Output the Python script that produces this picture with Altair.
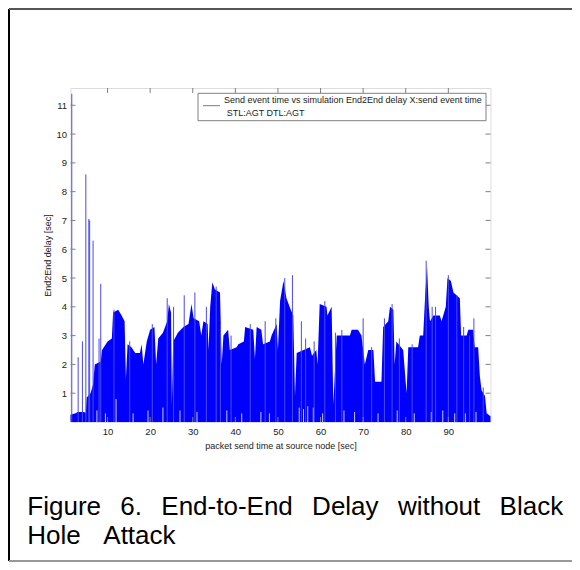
import altair as alt
import pandas as pd

# upper envelope of the dense delay trace (send time [s], delay [s])
env_t = [1.3, 2.5, 3.0, 4.5, 4.9, 5.1, 6.0, 6.6, 7.0, 8.4, 8.7, 10.0, 11.0, 11.3, 12.5, 13.3,
         14.0, 14.3, 14.7, 15.6, 16.5, 17.6, 18.0, 18.4, 19.2, 20.0, 21.0, 21.4, 21.9, 23.0,
         24.0, 24.4, 24.9, 25.1, 25.4, 26.5, 27.8, 29.0, 29.7, 30.2, 31.5, 32.0, 32.5, 33.5,
         33.7, 34.1, 34.6, 35.2, 36.4, 36.8, 37.2, 38.3, 38.7, 40.3, 40.7, 42.0, 42.3, 44.2,
         44.6, 45.0, 46.1, 46.5, 48.1, 48.5, 49.7, 50.0, 50.5, 51.3, 52.0, 53.0, 53.6, 54.0,
         54.4, 57.5, 58.0, 59.0, 59.3, 59.8, 61.4, 61.6, 62.6, 63.0, 63.8, 66.9, 67.3, 68.8,
         69.6, 70.4, 71.2, 72.4, 72.8, 74.3, 74.7, 75.9, 76.3, 77.1, 77.4, 77.8, 79.4, 80.2,
         80.6, 82.9, 83.3, 84.1, 84.6, 85.0, 85.4, 85.7, 86.5, 88.0, 88.4, 89.4, 89.8, 90.6,
         91.2, 92.7, 93.0, 94.3, 94.7, 95.8, 96.2, 97.0, 97.4, 97.8, 98.6, 99.0, 99.9]
env_high = [0.25, 0.3, 0.35, 0.35, 0.3, 0.85, 1.0, 1.3, 2.0, 2.1, 2.5, 2.8, 2.9, 3.8, 3.9, 3.7,
            3.5, 1.5, 2.7, 2.6, 2.4, 2.4, 2.7, 2.0, 2.8, 3.2, 3.3, 2.0, 2.9, 3.1,
            3.5, 4.1, 3.8, 0.6, 2.8, 3.1, 3.3, 3.4, 4.1, 3.6, 3.5, 3.0, 3.5, 3.4,
            2.5, 4.0, 4.85, 4.6, 4.5, 2.0, 3.0, 3.2, 2.5, 2.6, 2.7, 2.8, 3.3, 3.2,
            2.2, 3.3, 3.2, 2.7, 2.8, 3.0, 3.4, 2.5, 4.2, 4.9, 4.3, 3.9, 3.7, 0.9,
            2.4, 2.6, 2.3, 2.5, 2.0, 4.1, 4.0, 3.7, 4.0, 0.6, 3.0, 3.0, 3.2, 3.2,
            3.0, 2.0, 2.5, 2.5, 1.4, 1.4, 3.3, 3.5, 4.0, 3.9, 2.0, 2.8, 2.5, 1.0,
            2.6, 2.6, 3.0, 3.0, 4.5, 5.4, 4.0, 3.5, 3.7, 3.7, 3.5, 4.0, 5.0, 4.9,
            4.5, 4.3, 3.0, 3.0, 3.2, 3.2, 2.6, 2.6, 1.6, 1.1, 0.9, 0.3, 0.2]

# isolated spikes above the envelope
spike_t = [1.6, 3.1, 4.1, 4.9, 5.6, 5.8, 6.6, 8.4, 8.0, 11.5, 15.2, 20.5, 24.0, 25.5, 28.0,
           30.5, 33.2, 35.5, 36.5, 39.0, 43.5, 47.0, 49.5, 51.6, 53.4, 55.5, 56.5, 58.5, 61.0,
           63.5, 65.0, 70.0, 72.0, 75.0, 76.8, 78.5, 81.5, 84.8, 86.2, 87.0, 90.0, 92.0,
           93.6, 95.0, 96.0, 98.2]
spike_h = [11.4, 2.25, 2.8, 8.6, 7.05, 7.0, 6.3, 4.8, 2.9, 3.9, 2.8, 3.4, 4.3, 4.0, 4.4,
           4.5, 4.0, 4.7, 3.4, 3.0, 3.4, 3.5, 3.6, 5.0, 5.1, 3.5, 2.9, 2.8, 4.2,
           3.1, 3.2, 3.6, 2.6, 3.6, 4.1, 2.9, 2.7, 5.6, 4.0, 4.0, 5.1, 4.4,
           3.3, 3.0, 3.6, 1.2]

# light gaps near the bottom of the trace
gap_t = [7.5, 9.5, 12.0, 16.0, 19.5, 23.0, 27.0, 31.0, 38.0, 41.5, 46.0, 48.0, 55.0, 56.0,
         57.0, 58.3, 60.5, 65.5, 68.0, 73.5, 78.0, 82.0, 86.0, 88.7, 91.5, 94.0, 96.5]
gap_h = [0.4, 0.3, 0.8, 0.3, 0.4, 0.5, 0.4, 0.35, 0.4, 0.3, 0.35, 0.3, 0.5, 0.45,
         0.55, 0.5, 0.3, 0.4, 0.35, 0.3, 0.4, 0.3, 0.35, 0.4, 0.3, 0.3, 0.35]

x_ticks = [10, 20, 30, 40, 50, 60, 70, 80, 90]
y_ticks = [1, 2, 3, 4, 5, 6, 7, 8, 9, 10, 11]

legend_line1 = "Send event time vs simulation End2End delay X:send event time"
legend_line2 = "STL:AGT DTL:AGT"
caption_words = ["Figure", "6.", "End-to-End", "Delay", "without", "Black", "Hole", "Attack"]
caption_x = [27.3, 120.3, 161.3, 312.1, 397.9, 499.6, 27.3, 103.3]
caption_y = [515, 515, 515, 515, 515, 515, 544, 544]

W, H = 420, 334
OX, OY = 70.5, 88  # page position of the plot area
FONT = "Liberation Sans"
GRAY = "#808080"

xs = alt.Scale(domain=[1.3, 99.9], nice=False, zero=False)
ys = alt.Scale(domain=[0, 11.6], nice=False)

xaxis = alt.Axis(values=x_ticks, tickSize=0, domain=False, grid=False, labelFontSize=9.5,
                 labelColor="#222222", labelPadding=4, labelFont=FONT,
                 title="packet send time at source node [sec]", titleFont=FONT,
                 titleFontSize=9, titleFontWeight="normal", titleColor="#222222",
                 titleY=23, titleBaseline="middle")
yaxis = alt.Axis(values=y_ticks, tickSize=0, domain=False, grid=False, labelFontSize=9.5,
                 labelColor="#222222", labelPadding=4, labelFont=FONT,
                 title="End2End delay [sec]", titleFont=FONT, titleFontSize=9,
                 titleFontWeight="normal", titleColor="#222222", titleX=-23, titleY=H / 2,
                 titleBaseline="middle", titleAlign="center", titleAngle=-90)


def X(field):
    return alt.X(field, scale=xs, axis=xaxis)


def Y(field):
    return alt.Y(field, scale=ys, axis=yaxis)


env = pd.DataFrame({"t": env_t, "high": env_high})
area = alt.Chart(env).mark_area(color="#0000ff", interpolate="linear").encode(
    x=X("t:Q"), y=Y("high:Q"))

spikes = alt.Chart(pd.DataFrame({"t": spike_t, "high": spike_h})).mark_rule(
    color="#4a4ae8", strokeWidth=1).encode(x=X("t:Q"), y=Y("high:Q"), y2=alt.datum(0))

gaps = alt.Chart(pd.DataFrame({"t": gap_t, "high": gap_h})).mark_rule(
    color="#c8c8f4", strokeWidth=1).encode(x=X("t:Q"), y=Y("high:Q"), y2=alt.datum(0))

xt = pd.DataFrame({"t": x_ticks})
yt = pd.DataFrame({"high": y_ticks})
tick_layers = [
    alt.Chart(xt).mark_rule(color=GRAY).encode(x=X("t:Q"), y=alt.value(H), y2=alt.value(H - 5)),
    alt.Chart(xt).mark_rule(color=GRAY).encode(x=X("t:Q"), y=alt.value(0), y2=alt.value(5)),
    alt.Chart(yt).mark_rule(color=GRAY).encode(y=Y("high:Q"), x=alt.value(0), x2=alt.value(5)),
    alt.Chart(yt).mark_rule(color=GRAY).encode(y=Y("high:Q"), x=alt.value(W - 5), x2=alt.value(W)),
]

one = pd.DataFrame({"a": [0]})
legend_layers = [
    alt.Chart(one).mark_rect(fill="white", stroke=GRAY, strokeWidth=1).encode(
        x=alt.value(198 - OX), x2=alt.value(486 - OX),
        y=alt.value(93.3 - OY), y2=alt.value(120.7 - OY)),
    alt.Chart(one).mark_rule(color="#7070cc", strokeWidth=1).encode(
        x=alt.value(203 - OX), x2=alt.value(220 - OX), y=alt.value(105.7 - OY)),
    alt.Chart(one).mark_text(align="left", baseline="middle", font=FONT, fontSize=9,
                             color="#222222").encode(
        x=alt.value(224 - OX), y=alt.value(100 - OY), text=alt.value(legend_line1)),
    alt.Chart(one).mark_text(align="left", baseline="middle", font=FONT, fontSize=9,
                             color="#222222").encode(
        x=alt.value(226.7 - OX), y=alt.value(112.7 - OY), text=alt.value(legend_line2)),
]

caption_layers = [
    alt.Chart(one).mark_text(align="left", baseline="alphabetic", font=FONT, fontSize=26,
                             color="black").encode(
        x=alt.value(cx - OX), y=alt.value(cy - OY), text=alt.value(w))
    for w, cx, cy in zip(caption_words, caption_x, caption_y)
]

# outer figure box (svg spans page 8..572 x 8..562)
box_layers = [
    alt.Chart(one).mark_rule(color="black", strokeWidth=2).encode(
        x=alt.value(9 - OX), y=alt.value(9 - OY), y2=alt.value(561 - OY)),
    alt.Chart(one).mark_rule(color="#555555", strokeWidth=2).encode(
        x=alt.value(9 - OX), x2=alt.value(572 - OX), y=alt.value(9 - OY)),
    alt.Chart(one).mark_rule(color="#999999", strokeWidth=2).encode(
        x=alt.value(9 - OX), x2=alt.value(572 - OX), y=alt.value(561 - OY)),
]

chart = alt.layer(area, gaps, spikes, *tick_layers, *legend_layers, *caption_layers,
                  *box_layers).properties(
    width=W, height=H,
    padding={"left": 62.5, "top": 80, "right": 81.5, "bottom": 140},
    autosize=alt.AutoSizeParams(type="none"),
).configure_view(stroke=GRAY, strokeWidth=1).configure(background="white")

chart.save("out.html", embed_options={"renderer": "svg", "actions": False})
